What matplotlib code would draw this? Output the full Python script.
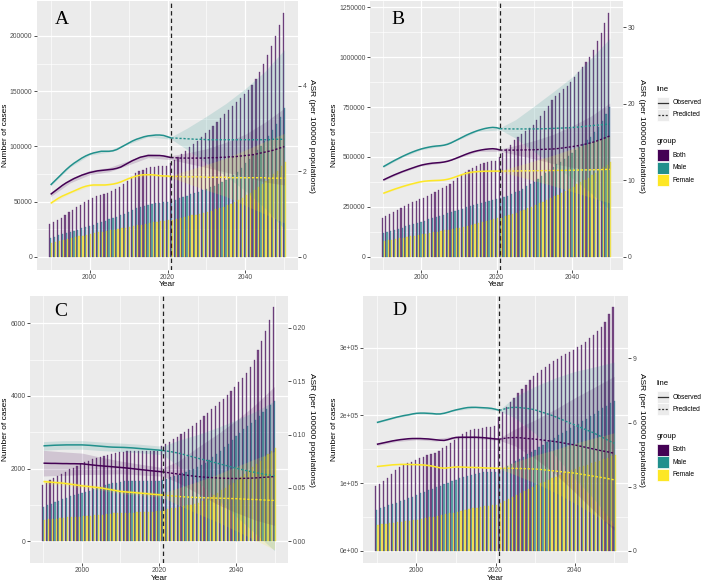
import numpy as np
import matplotlib
matplotlib.use('Agg')
import matplotlib.pyplot as plt
from matplotlib.patches import Rectangle
from matplotlib.lines import Line2D

plt.rcParams['font.family'] = ['Liberation Sans', 'DejaVu Sans']

# ---------------- data ----------------
years = list(range(1990, 2051))
split_year = 2021
rib_years = [1990, 1995, 2000, 2005, 2010, 2015, 2021, 2025, 2030, 2035, 2040, 2045, 2050]
groups = ['Both', 'Male', 'Female']
colors = ['#440154', '#21908C', '#FDE725']
line_types = ['Observed', 'Predicted']

# Panel A
A_both = [29600, 31500, 33500, 35500, 38000, 40500, 42500, 45000, 47000, 49500,
          51500, 53500, 55000, 56000, 57000, 58000, 59500, 61500, 63500, 66000,
          69000, 72500, 75500, 77500, 79000, 80000, 81000, 81500, 82000, 82500,
          82000, 84500, 88000, 90500, 93500, 96000, 99000, 102000, 105000, 108500,
          112000, 115000, 118500, 122000, 126000, 129000, 133000, 136500, 140000, 143500,
          147000, 151000, 156000, 161000, 167000, 175000, 183000, 191000, 200000, 210000,
          220500]
A_male = [17200, 18200, 19300, 20300, 21400, 22500, 23500, 24600, 25600, 26700,
          27800, 29000, 30200, 31400, 32600, 33800, 35000, 36200, 37400, 39000,
          40800, 42500, 44000, 45300, 46300, 47200, 48000, 48600, 49100, 49500,
          49800, 50500, 51800, 53000, 54200, 55400, 56600, 57800, 59000, 60300,
          61600, 63000, 64500, 66000, 67700, 69500, 71500, 73700, 76500, 80000,
          84500, 88500, 92500, 96500, 100500, 105000, 109500, 114500, 120000, 127000,
          134500]
A_female = [12700, 13500, 14300, 15100, 15900, 16700, 17500, 18400, 19200, 20100,
            21000, 21600, 22200, 22800, 23400, 24000, 24600, 25200, 25800, 26400,
            27000, 27700, 28400, 29100, 29800, 30500, 31100, 31700, 32200, 32600,
            33000, 33600, 34300, 35000, 35800, 36600, 37400, 38200, 39000, 39900,
            40800, 41800, 42900, 44000, 45200, 46500, 48000, 49700, 51500, 53500,
            55800, 58000, 60500, 63000, 65700, 68500, 71500, 74500, 78000, 82000,
            86000]
A_asr_both = [1.46, 1.53, 1.60, 1.67, 1.73, 1.78, 1.83, 1.87, 1.91, 1.94,
              1.97, 1.99, 2.01, 2.02, 2.03, 2.04, 2.05, 2.07, 2.10, 2.15,
              2.20, 2.25, 2.29, 2.33, 2.35, 2.37, 2.37, 2.37, 2.37, 2.36,
              2.34, 2.32, 2.32, 2.31, 2.31, 2.31, 2.31, 2.31, 2.31, 2.31,
              2.31, 2.32, 2.32, 2.32, 2.33, 2.33, 2.34, 2.34, 2.35, 2.36,
              2.37, 2.38, 2.39, 2.41, 2.43, 2.45, 2.47, 2.49, 2.52, 2.55,
              2.58]
A_asr_male = [1.68, 1.77, 1.86, 1.95, 2.04, 2.12, 2.19, 2.25, 2.31, 2.36,
              2.40, 2.43, 2.45, 2.47, 2.47, 2.47, 2.48, 2.51, 2.56, 2.61,
              2.66, 2.71, 2.75, 2.78, 2.81, 2.83, 2.84, 2.85, 2.85, 2.84,
              2.81, 2.78, 2.78, 2.77, 2.77, 2.76, 2.76, 2.75, 2.75, 2.75,
              2.74, 2.74, 2.74, 2.74, 2.74, 2.74, 2.74, 2.74, 2.74, 2.74,
              2.74, 2.74, 2.74, 2.74, 2.74, 2.74, 2.74, 2.75, 2.75, 2.75,
              2.75]
A_asr_female = [1.25, 1.31, 1.37, 1.42, 1.46, 1.50, 1.54, 1.58, 1.62, 1.65,
                1.67, 1.68, 1.68, 1.68, 1.68, 1.69, 1.70, 1.72, 1.75, 1.79,
                1.83, 1.86, 1.89, 1.91, 1.92, 1.92, 1.92, 1.91, 1.90, 1.89,
                1.89, 1.88, 1.88, 1.88, 1.87, 1.87, 1.87, 1.87, 1.87, 1.87,
                1.86, 1.86, 1.86, 1.86, 1.86, 1.86, 1.85, 1.85, 1.85, 1.85,
                1.85, 1.85, 1.85, 1.85, 1.85, 1.85, 1.84, 1.84, 1.84, 1.84,
                1.84]
A_lo_both = [1.41, 1.73, 1.92, 1.99, 2.15, 2.32, 2.27, 2.19, 2.09, 1.98, 1.87, 1.75, 1.68]
A_hi_both = [1.51, 1.83, 2.02, 2.09, 2.25, 2.42, 2.37, 2.43, 2.53, 2.68, 2.87, 3.15, 3.48]
A_lo_male = [1.66, 2.10, 2.38, 2.45, 2.64, 2.81, 2.75, 2.51, 2.19, 1.89, 1.54, 1.14, 0.65]
A_hi_male = [1.70, 2.14, 2.42, 2.49, 2.68, 2.85, 2.81, 3.01, 3.29, 3.59, 3.94, 4.34, 4.85]
A_lo_female = [1.23, 1.48, 1.65, 1.67, 1.81, 1.90, 1.85, 1.72, 1.56, 1.41, 1.20, 1.00, 0.79]
A_hi_female = [1.27, 1.52, 1.69, 1.71, 1.85, 1.94, 1.91, 2.02, 2.16, 2.31, 2.50, 2.70, 2.89]

# Panel B
B_both = [192000, 203000, 213000, 223000, 234000, 244000, 254000, 264000, 274000, 281000,
          287000, 296000, 305000, 314000, 323000, 332000, 342000, 353000, 365000, 378000,
          393000, 408000, 422000, 435000, 446000, 456000, 464000, 470000, 475000, 478000,
          480000, 501000, 520000, 540000, 562000, 585000, 600000, 615000, 630000, 645000,
          660000, 683000, 706000, 730000, 757000, 785000, 803000, 821000, 840000, 858000,
          877000, 900000, 925000, 950000, 976000, 1003000, 1036000, 1083000, 1123000, 1170000,
          1223000]
B_male = [117000, 122000, 128000, 134000, 140000, 146000, 152000, 158000, 164000, 170000,
          175000, 181000, 187000, 193000, 199000, 205000, 211000, 217000, 223000, 229000,
          235000, 241000, 247000, 253000, 259000, 265000, 270000, 275000, 280000, 285000,
          289000, 292000, 298000, 305000, 313000, 322000, 331000, 341000, 352000, 364000,
          376000, 390000, 404000, 419000, 435000, 451000, 464000, 477000, 490000, 504000,
          518000, 534000, 550000, 566000, 583000, 601000, 625000, 651000, 680000, 714000,
          752000]
B_female = [78500, 82000, 85500, 89000, 92500, 96000, 99000, 102500, 105500, 109000,
            112000, 115000, 118500, 121500, 125000, 128000, 131500, 135000, 138000, 141500,
            145000, 149500, 154000, 159000, 164000, 169000, 174000, 179000, 184000, 188000,
            192000, 196000, 202000, 208000, 214000, 221000, 228000, 235000, 243000, 251000,
            259000, 267000, 275000, 284000, 293000, 302000, 311000, 321000, 331000, 341000,
            351000, 362000, 373000, 384000, 396000, 408000, 421000, 434000, 448000, 460000,
            473000]
B_asr_both = [10.03, 10.27, 10.50, 10.72, 10.92, 11.12, 11.30, 11.48, 11.65, 11.82,
              11.97, 12.08, 12.17, 12.24, 12.28, 12.32, 12.38, 12.48, 12.63, 12.82,
              13.02, 13.22, 13.42, 13.60, 13.75, 13.87, 13.97, 14.05, 14.10, 14.13,
              14.08, 13.96, 13.95, 13.95, 13.95, 13.95, 13.96, 13.97, 13.98, 13.99,
              14.00, 14.02, 14.04, 14.06, 14.08, 14.10, 14.14, 14.20, 14.26, 14.33,
              14.40, 14.48, 14.57, 14.67, 14.78, 14.90, 15.05, 15.22, 15.40, 15.60,
              15.80]
B_asr_male = [11.77, 12.05, 12.33, 12.60, 12.85, 13.10, 13.33, 13.55, 13.75, 13.93,
              14.09, 14.22, 14.33, 14.42, 14.48, 14.52, 14.58, 14.70, 14.90, 15.15,
              15.40, 15.65, 15.90, 16.12, 16.32, 16.50, 16.65, 16.78, 16.87, 16.92,
              16.88, 16.75, 16.74, 16.73, 16.72, 16.72, 16.72, 16.72, 16.72, 16.72,
              16.72, 16.73, 16.74, 16.75, 16.77, 16.79, 16.81, 16.83, 16.85, 16.87,
              16.90, 16.94, 16.98, 17.03, 17.08, 17.14, 17.19, 17.23, 17.27, 17.32,
              17.36]
B_asr_female = [8.29, 8.48, 8.66, 8.84, 9.00, 9.16, 9.31, 9.45, 9.58, 9.70,
                9.81, 9.88, 9.93, 9.96, 9.98, 10.00, 10.04, 10.12, 10.25, 10.42,
                10.60, 10.77, 10.92, 11.03, 11.10, 11.14, 11.17, 11.19, 11.20, 11.20,
                11.20, 11.20, 11.20, 11.21, 11.21, 11.22, 11.22, 11.23, 11.24, 11.24,
                11.25, 11.26, 11.26, 11.27, 11.27, 11.28, 11.29, 11.30, 11.30, 11.31,
                11.32, 11.33, 11.34, 11.35, 11.36, 11.37, 11.38, 11.39, 11.40, 11.42,
                11.43]
B_lo_both = [9.93, 11.02, 11.87, 12.22, 12.92, 13.77, 13.81, 13.35, 12.80, 12.20, 11.70, 11.40, 11.50]
B_hi_both = [10.13, 11.22, 12.07, 12.42, 13.12, 13.97, 14.11, 14.55, 15.20, 16.00, 17.10, 18.40, 20.10]
B_lo_male = [11.67, 13.00, 13.99, 14.42, 15.30, 16.40, 16.60, 15.52, 13.72, 11.98, 10.30, 8.34, 6.16]
B_hi_male = [11.87, 13.20, 14.19, 14.62, 15.50, 16.60, 16.90, 17.92, 19.72, 21.58, 23.50, 25.94, 28.56]
B_lo_female = [8.21, 9.08, 9.73, 9.92, 10.52, 11.06, 11.10, 10.62, 9.95, 9.28, 8.52, 7.77, 7.03]
B_hi_female = [8.37, 9.24, 9.89, 10.08, 10.68, 11.22, 11.30, 11.82, 12.55, 13.28, 14.12, 14.97, 15.83]

# Panel C
C_both = [1560, 1620, 1680, 1740, 1800, 1860, 1920, 1980, 2030, 2080,
          2130, 2180, 2220, 2260, 2300, 2330, 2360, 2390, 2410, 2430,
          2450, 2470, 2490, 2500, 2500, 2500, 2500, 2500, 2500, 2500,
          2490, 2620, 2680, 2740, 2810, 2880, 2950, 3020, 3100, 3180,
          3260, 3350, 3440, 3530, 3630, 3730, 3830, 3930, 4040, 4150,
          4260, 4380, 4500, 4630, 4800, 4990, 5270, 5500, 5800, 6090,
          6440]
C_male = [960, 1000, 1040, 1080, 1120, 1160, 1200, 1240, 1270, 1300,
          1330, 1370, 1400, 1440, 1480, 1510, 1540, 1570, 1600, 1620,
          1640, 1650, 1650, 1650, 1650, 1650, 1650, 1650, 1650, 1650,
          1650, 1700, 1730, 1760, 1800, 1840, 1880, 1920, 1960, 2000,
          2050, 2110, 2170, 2240, 2320, 2400, 2490, 2590, 2690, 2790,
          2900, 2990, 3080, 3170, 3260, 3350, 3450, 3550, 3650, 3750,
          3850]
C_female = [600, 610, 620, 630, 640, 650, 660, 670, 680, 685,
            690, 700, 710, 720, 730, 740, 750, 760, 770, 775,
            780, 785, 790, 795, 800, 805, 810, 815, 820, 825,
            830, 870, 890, 910, 930, 950, 970, 990, 1010, 1030,
            1060, 1110, 1160, 1220, 1280, 1340, 1410, 1480, 1550, 1620,
            1700, 1780, 1860, 1950, 2040, 2130, 2220, 2310, 2400, 2490,
            2580]
C_asr_both = [0.0732, 0.0731, 0.0730, 0.0730, 0.0729, 0.0728, 0.0728, 0.0727, 0.0727, 0.0726,
              0.0726, 0.0722, 0.0718, 0.0714, 0.0710, 0.0707, 0.0704, 0.0701, 0.0698, 0.0695,
              0.0692, 0.0689, 0.0685, 0.0681, 0.0677, 0.0673, 0.0669, 0.0665, 0.0661, 0.0657,
              0.0654, 0.0650, 0.0645, 0.0640, 0.0635, 0.0630, 0.0625, 0.0620, 0.0615, 0.0611,
              0.0607, 0.0604, 0.0601, 0.0598, 0.0596, 0.0594, 0.0592, 0.0591, 0.0590, 0.0589,
              0.0589, 0.0589, 0.0590, 0.0591, 0.0592, 0.0594, 0.0596, 0.0599, 0.0601, 0.0604,
              0.0607]
C_asr_male = [0.0894, 0.0896, 0.0898, 0.0900, 0.0901, 0.0902, 0.0903, 0.0903, 0.0903, 0.0903,
              0.0903, 0.0901, 0.0899, 0.0896, 0.0893, 0.0890, 0.0887, 0.0884, 0.0882, 0.0881,
              0.0880, 0.0879, 0.0877, 0.0875, 0.0872, 0.0869, 0.0866, 0.0863, 0.0860, 0.0857,
              0.0854, 0.0850, 0.0845, 0.0840, 0.0833, 0.0826, 0.0817, 0.0808, 0.0798, 0.0789,
              0.0779, 0.0770, 0.0761, 0.0752, 0.0742, 0.0733, 0.0723, 0.0714, 0.0704, 0.0695,
              0.0685, 0.0677, 0.0668, 0.0660, 0.0652, 0.0645, 0.0638, 0.0631, 0.0625, 0.0619,
              0.0614]
C_asr_female = [0.0560, 0.0557, 0.0554, 0.0551, 0.0548, 0.0545, 0.0540, 0.0535, 0.0530, 0.0525,
                0.0520, 0.0516, 0.0512, 0.0508, 0.0504, 0.0500, 0.0493, 0.0487, 0.0480, 0.0474,
                0.0467, 0.0464, 0.0461, 0.0458, 0.0455, 0.0452, 0.0449, 0.0446, 0.0442, 0.0439,
                0.0436, 0.0433, 0.0430, 0.0427, 0.0424, 0.0421, 0.0418, 0.0416, 0.0414, 0.0412,
                0.0410, 0.0409, 0.0408, 0.0407, 0.0406, 0.0405, 0.0404, 0.0403, 0.0402, 0.0401,
                0.0400, 0.0398, 0.0396, 0.0394, 0.0393, 0.0392, 0.0390, 0.0388, 0.0386, 0.0385,
                0.0383]
C_lo_both = [0.0612, 0.0618, 0.0626, 0.0627, 0.0632, 0.0623, 0.0610, 0.0550, 0.0450, 0.0350, 0.0270, 0.0200, 0.0150]
C_hi_both = [0.0852, 0.0838, 0.0826, 0.0787, 0.0752, 0.0723, 0.0690, 0.0750, 0.0880, 0.1000, 0.1130, 0.1280, 0.1450]
C_lo_male = [0.0854, 0.0862, 0.0863, 0.0850, 0.0840, 0.0829, 0.0810, 0.0706, 0.0559, 0.0403, 0.0235, 0.0075, -0.0086]
C_hi_male = [0.0934, 0.0942, 0.0943, 0.0930, 0.0920, 0.0909, 0.0890, 0.0946, 0.0999, 0.1063, 0.1135, 0.1215, 0.1314]
C_lo_female = [0.0540, 0.0525, 0.0500, 0.0480, 0.0447, 0.0432, 0.0413, 0.0341, 0.0260, 0.0185, 0.0100, 0.0012, -0.0077]
C_hi_female = [0.0580, 0.0565, 0.0540, 0.0520, 0.0487, 0.0472, 0.0453, 0.0501, 0.0560, 0.0625, 0.0700, 0.0772, 0.0843]

# Panel D
D_both = [95000, 99000, 103000, 107500, 113000, 119500, 123000, 126000, 129000, 131500,
          134000, 136500, 139000, 141000, 143000, 145000, 148000, 151000, 154000, 158500,
          163500, 168500, 172500, 176000, 178000, 179500, 180500, 181500, 182500, 183000,
          183500, 198000, 205000, 212000, 219000, 226000, 232500, 239000, 245500, 252000,
          258000, 262500, 267000, 271500, 276000, 280000, 283500, 287000, 290500, 293500,
          296500, 300500, 304500, 309000, 313500, 318500, 324000, 330500, 338500, 349000,
          360500]
D_male = [60500, 62500, 64700, 66900, 69000, 71200, 73400, 75600, 77800, 80000,
          82500, 84800, 87000, 89200, 91400, 93600, 95800, 98000, 100200, 102500,
          104800, 107000, 109000, 111000, 112500, 114000, 115000, 116000, 116500, 117000,
          117000, 118000, 121500, 125000, 128500, 132000, 135500, 139000, 142500, 146000,
          149500, 153000, 156500, 160000, 163500, 167000, 170500, 174000, 177500, 181000,
          184000, 187500, 191000, 194500, 198500, 202500, 206500, 210500, 214500, 218000,
          220500]
D_female = [38400, 39100, 39800, 40500, 41200, 41900, 42600, 43400, 44200, 45000,
            45800, 46900, 48000, 49100, 50200, 51400, 52600, 53800, 55000, 56400,
            57800, 59000, 60200, 61400, 62600, 63700, 64800, 65800, 66700, 67400,
            68000, 70000, 73000, 76000, 79000, 82000, 85000, 88000, 91000, 94000,
            97000, 99500, 102000, 104500, 107000, 109500, 112000, 114500, 117000, 119000,
            121000, 123000, 125000, 127000, 129000, 131000, 133000, 135000, 137000, 139500,
            142000]
D_asr_both = [4.98, 5.02, 5.06, 5.10, 5.14, 5.17, 5.20, 5.22, 5.24, 5.25,
              5.25, 5.25, 5.24, 5.23, 5.21, 5.19, 5.17, 5.16, 5.20, 5.26,
              5.30, 5.31, 5.31, 5.31, 5.31, 5.31, 5.30, 5.29, 5.27, 5.25,
              5.23, 5.22, 5.25, 5.28, 5.29, 5.30, 5.29, 5.27, 5.25, 5.24,
              5.22, 5.20, 5.18, 5.15, 5.13, 5.11, 5.08, 5.05, 5.01, 4.98,
              4.95, 4.91, 4.87, 4.83, 4.79, 4.75, 4.71, 4.67, 4.64, 4.60,
              4.56]
D_asr_male = [6.00, 6.05, 6.10, 6.15, 6.20, 6.25, 6.29, 6.33, 6.36, 6.40,
              6.43, 6.44, 6.44, 6.43, 6.42, 6.40, 6.40, 6.43, 6.48, 6.54,
              6.59, 6.63, 6.67, 6.70, 6.71, 6.71, 6.70, 6.69, 6.68, 6.66,
              6.62, 6.57, 6.62, 6.67, 6.70, 6.71, 6.70, 6.68, 6.66, 6.63,
              6.59, 6.53, 6.47, 6.41, 6.35, 6.28, 6.20, 6.12, 6.04, 5.96,
              5.89, 5.81, 5.73, 5.65, 5.58, 5.50, 5.40, 5.31, 5.21, 5.12,
              5.03]
D_asr_female = [3.94, 3.96, 3.98, 4.00, 4.02, 4.03, 4.04, 4.04, 4.04, 4.03,
                4.03, 4.02, 4.01, 3.99, 3.96, 3.92, 3.88, 3.86, 3.88, 3.90,
                3.92, 3.92, 3.91, 3.90, 3.90, 3.89, 3.89, 3.88, 3.87, 3.87,
                3.86, 3.86, 3.86, 3.86, 3.86, 3.85, 3.85, 3.84, 3.84, 3.83,
                3.82, 3.81, 3.79, 3.77, 3.75, 3.73, 3.71, 3.69, 3.67, 3.65,
                3.63, 3.60, 3.57, 3.54, 3.51, 3.48, 3.45, 3.42, 3.39, 3.35,
                3.32]
D_lo_both = [4.92, 5.11, 5.19, 5.13, 5.24, 5.25, 5.16, 4.90, 4.32, 3.61, 2.75, 1.85, 0.96]
D_hi_both = [5.04, 5.23, 5.31, 5.25, 5.36, 5.37, 5.28, 5.70, 6.12, 6.61, 7.15, 7.65, 8.16]
D_lo_male = [5.97, 6.22, 6.40, 6.37, 6.56, 6.68, 6.54, 6.21, 5.49, 4.48, 3.39, 2.40, 1.23]
D_hi_male = [6.03, 6.28, 6.46, 6.43, 6.62, 6.74, 6.60, 7.21, 7.69, 8.08, 8.39, 8.60, 8.83]
D_lo_female = [3.92, 4.01, 4.01, 3.90, 3.90, 3.87, 3.83, 3.55, 3.17, 2.73, 2.23, 1.68, 1.12]
D_hi_female = [3.96, 4.05, 4.05, 3.94, 3.94, 3.91, 3.89, 4.15, 4.47, 4.73, 5.03, 5.28, 5.52]

# tick labels
x_ticks = [2000, 2020, 2040]
x_minor = [1990, 2010, 2030, 2050]
A_yticks = [0, 50000, 100000, 150000, 200000]
A_ylabels = ['0', '50000', '100000', '150000', '200000']
A_y2ticks = [0, 2, 4]
A_y2labels = ['0', '2', '4']
B_yticks = [0, 250000, 500000, 750000, 1000000, 1250000]
B_ylabels = ['0', '250000', '500000', '750000', '1000000', '1250000']
B_y2ticks = [0, 10, 20, 30]
B_y2labels = ['0', '10', '20', '30']
C_yticks = [0, 2000, 4000, 6000]
C_ylabels = ['0', '2000', '4000', '6000']
C_y2ticks = [0.0, 0.05, 0.10, 0.15, 0.20]
C_y2labels = ['0.00', '0.05', '0.10', '0.15', '0.20']
D_yticks = [0, 100000, 200000, 300000]
D_ylabels = ['0e+00', '1e+05', '2e+05', '3e+05']
D_y2ticks = [0, 3, 6, 9]
D_y2labels = ['0', '3', '6', '9']

# ---------------- figure ----------------
W, H = 702, 583
fig = plt.figure(figsize=(W / 100, H / 100), dpi=100)


def fx(px):
    return px / W


def fy(py):
    return 1 - py / H


TICK_C = '#4D4D4D'
BG = '#EBEBEB'
TICK_FS = 4.9
TITLE_FS = 6.0
LEG_FS = 4.8
LEG_TITLE_FS = 5.6
bar_edges = ['#4a1a64', '#2d5e93', '#e8d424']

panels = [
    dict(letter='A', box=(37, 1, 298, 270), letter_xy=(62, 19),
         cases=(A_both, A_male, A_female), asr=(A_asr_both, A_asr_male, A_asr_female),
         lo=(A_lo_both, A_lo_male, A_lo_female), hi=(A_hi_both, A_hi_male, A_hi_female),
         ylim=(-12050, 231700), ylim2=(-0.312, 5.99),
         yt=A_yticks, yl=A_ylabels, y2t=A_y2ticks, y2l=A_y2labels,
         ylab_x=6, y2lab_x=312, year_y=284, legend=None),
    dict(letter='B', box=(370, 1, 623, 270), letter_xy=(398, 20),
         cases=(B_both, B_male, B_female), asr=(B_asr_both, B_asr_male, B_asr_female),
         lo=(B_lo_both, B_lo_male, B_lo_female), hi=(B_hi_both, B_hi_male, B_hi_female),
         ylim=(-66700, 1281600), ylim2=(-1.74, 33.46),
         yt=B_yticks, yl=B_ylabels, y2t=B_y2ticks, y2l=B_y2labels,
         ylab_x=335, y2lab_x=641, year_y=284, legend=0.0),
    dict(letter='C', box=(30, 296, 288, 563), letter_xy=(61, 311),
         cases=(C_both, C_male, C_female), asr=(C_asr_both, C_asr_male, C_asr_female),
         lo=(C_lo_both, C_lo_male, C_lo_female), hi=(C_hi_both, C_hi_male, C_hi_female),
         ylim=(-593, 6749), ylim2=(-0.0202, 0.2296),
         yt=C_yticks, yl=C_ylabels, y2t=C_y2ticks, y2l=C_y2labels,
         ylab_x=6, y2lab_x=312, year_y=578, legend=None),
    dict(letter='D', box=(363, 296, 628, 563), letter_xy=(399, 310),
         cases=(D_both, D_male, D_female), asr=(D_asr_both, D_asr_male, D_asr_female),
         lo=(D_lo_both, D_lo_male, D_lo_female), hi=(D_hi_both, D_hi_male, D_hi_female),
         ylim=(-18150, 376280), ylim2=(-0.575, 11.92),
         yt=D_yticks, yl=D_ylabels, y2t=D_y2ticks, y2l=D_y2labels,
         ylab_x=334, y2lab_x=641, year_y=578, legend=294.5),
]

yrs = np.array(years, dtype=float)
split_idx = years.index(split_year)
bar_w = 0.3
offsets = [-bar_w, 0.0, bar_w]
pred_dash = (0, (1.6, 1.3))

for p in panels:
    x0, y0, x1, y1 = p['box']
    ax = fig.add_axes([fx(x0), fy(y1), (x1 - x0) / W, (y1 - y0) / H])
    ax.set_facecolor(BG)
    ax.set_xlim(1986.5, 2053.5)
    ax.set_ylim(*p['ylim'])
    ax.set_xticks(x_ticks)
    ax.set_xticks(x_minor, minor=True)
    ax.set_xticklabels([str(t) for t in x_ticks])
    ax.set_yticks(p['yt'])
    ax.set_yticklabels(p['yl'])
    yt = p['yt']
    ax.set_yticks([(yt[i] + yt[i + 1]) / 2 for i in range(len(yt) - 1)], minor=True)
    ax.grid(which='major', color='white', lw=0.9)
    ax.grid(which='minor', color='white', lw=0.45)
    ax.set_axisbelow(True)
    ax.tick_params(which='minor', length=0)
    ax.tick_params(which='major', length=2.0, width=0.6, color='#333333',
                   labelsize=TICK_FS, labelcolor=TICK_C, pad=1.2)
    for s in ax.spines.values():
        s.set_visible(False)

    # bars (dodged)
    for vals, col, ec, off in zip(p['cases'], colors, bar_edges, offsets):
        ax.bar(yrs + off, vals, width=bar_w, color=col, alpha=0.68,
               edgecolor=ec, linewidth=0.3, zorder=2)

    ax2 = ax.twinx()
    ax2.set_ylim(*p['ylim2'])
    ax2.set_yticks(p['y2t'])
    ax2.set_yticklabels(p['y2l'])
    ax2.tick_params(which='major', length=2.0, width=0.6, color='#333333',
                    labelsize=TICK_FS, labelcolor=TICK_C, pad=1.2)
    for s in ax2.spines.values():
        s.set_visible(False)

    # ribbons
    for lo, hi, col in zip(p['lo'], p['hi'], colors):
        ax2.fill_between(rib_years, lo, hi, color=col, alpha=0.16, lw=0, zorder=3)
    # lines
    for vals, col in zip(p['asr'], colors):
        ax2.plot(yrs[:split_idx + 1], vals[:split_idx + 1], color=col, lw=1.1,
                 ls='-', zorder=4, solid_capstyle='butt')
        ax2.plot(yrs[split_idx:], vals[split_idx:], color=col, lw=1.0,
                 ls=pred_dash, zorder=4)
    ax2.axvline(split_year, color='#222222', lw=0.9, ls=(0, (3.5, 2.5)), zorder=5)

    # titles
    fig.text(fx((x0 + x1) / 2), fy(p['year_y']), 'Year', ha='center', va='center',
             fontsize=TITLE_FS, color='black')
    fig.text(fx(p['ylab_x']), fy((y0 + y1) / 2), 'Number of cases', rotation=90,
             ha='center', va='center', fontsize=TITLE_FS, color='black')
    fig.text(fx(p['y2lab_x']), fy((y0 + y1) / 2), 'ASR (per 100000 populations)',
             rotation=270, ha='center', va='center', fontsize=TITLE_FS, color='black')
    lx, ly = p['letter_xy']
    fig.text(fx(lx), fy(ly), p['letter'], ha='center', va='center', fontsize=14,
             family=['Liberation Serif', 'DejaVu Serif'], color='black')

    # legend
    if p['legend'] is not None:
        off = p['legend']
        fig.text(fx(656.5), fy(89.3 + off), 'line', ha='left', va='center',
                 fontsize=LEG_TITLE_FS, color='black')
        for i, (lab, ls) in enumerate(zip(line_types, ['-', pred_dash])):
            yc = 102.7 + 12.0 * i + off
            fig.add_artist(Rectangle((fx(656.5), fy(yc + 6)), 12.5 / W, 12 / H,
                                     transform=fig.transFigure, facecolor=BG,
                                     edgecolor='white', lw=0.5))
            fig.add_artist(Line2D([fx(658), fx(667.5)], [fy(yc), fy(yc)],
                                  transform=fig.transFigure, color='#333333',
                                  lw=0.9, ls=ls))
            fig.text(fx(672.5), fy(yc), lab, ha='left', va='center', fontsize=LEG_FS,
                     color='black')
        fig.text(fx(656.5), fy(141.7 + off), 'group', ha='left', va='center',
                 fontsize=LEG_TITLE_FS, color='black')
        for i, (g, col) in enumerate(zip(groups, colors)):
            yc = 155.0 + 12.5 * i + off
            fig.add_artist(Rectangle((fx(656.5), fy(yc + 6)), 12.5 / W, 12 / H,
                                     transform=fig.transFigure, facecolor=col,
                                     edgecolor='white', lw=0.5))
            fig.text(fx(672.5), fy(yc), g, ha='left', va='center', fontsize=LEG_FS,
                     color='black')

fig.savefig('out.png', dpi=100)
